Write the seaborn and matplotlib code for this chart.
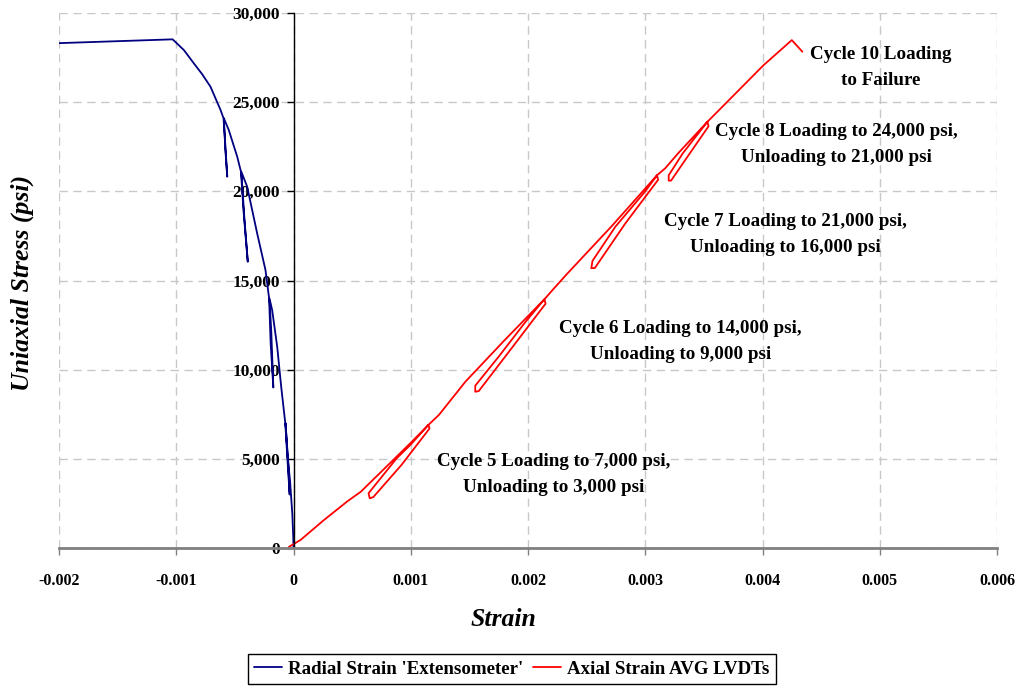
import matplotlib
matplotlib.use("Agg")
import matplotlib.pyplot as plt
import numpy as np
import pandas as pd
import seaborn as sns

# ---------------- data ----------------
radial_strain = [0.0, -0.000002, -0.000010, -0.000030, -0.000050, -0.000068,
                 -0.000045, -0.000033,
                 -0.000052, -0.000070,
                 -0.000105, -0.000139, -0.000182, -0.000205,
                 -0.000190, -0.000172,
                 -0.000195, -0.000208,
                 -0.000239, -0.000310, -0.000395, -0.000445,
                 -0.000420, -0.000390,
                 -0.000425, -0.000448,
                 -0.000480, -0.000552, -0.000594,
                 -0.000582, -0.000565,
                 -0.000585, -0.000597,
                 -0.000622, -0.000708, -0.000778, -0.000850, -0.000935, -0.001031, -0.002000]
radial_stress = [0, 600, 1900, 3800, 5100, 7000,
                 4800, 3000,
                 5000, 7000,
                 9044, 11287, 13345, 14000,
                 12200, 9000,
                 11500, 14000,
                 15587, 17645, 20258, 21100,
                 18600, 16050,
                 18800, 21100,
                 21940, 23437, 24100,
                 22400, 20820,
                 23000, 24100,
                 24559, 25866, 26560, 27177, 27923, 28523, 28310]

axial_strain = [-0.00004, 0.00006, 0.00026, 0.00046, 0.000575, 0.00080, 0.00100, 0.00115,
                0.00116, 0.00092, 0.00068, 0.00065,
                0.00064, 0.00088, 0.00100, 0.00115,
                0.00124, 0.001466, 0.00180, 0.00214,
                0.00215, 0.00186, 0.00158, 0.00155,
                0.00155, 0.00175, 0.00198, 0.00214,
                0.00221, 0.00233, 0.00271, 0.00310,
                0.00311, 0.00283, 0.00257, 0.00254,
                0.00255, 0.002745, 0.00300, 0.00310,
                0.00317, 0.00328, 0.00353,
                0.00354, 0.00338, 0.00322, 0.00320,
                0.00320, 0.00332, 0.00353,
                0.00363, 0.00401, 0.00425, 0.00434]
axial_stress = [60, 450, 1570, 2620, 3160, 4610, 5900, 6900,
                6700, 4650, 2850, 2790,
                3070, 5030, 5800, 6900,
                7460, 9325, 11650, 13950,
                13700, 11200, 8800, 8760,
                9100, 10730, 12690, 13950,
                14470, 15350, 18020, 20900,
                20650, 18200, 15700, 15690,
                16100, 18015, 20000, 20900,
                21290, 22130, 23900,
                23650, 22130, 20600, 20600,
                20900, 22130, 23900,
                24560, 27080, 28480, 27830]

series_names = ["Radial Strain 'Extensometer'", "Axial Strain AVG LVDTs"]
series_colors = ["#000080", "#ff0000"]

x_ticks = [-0.002, -0.001, 0.0, 0.001, 0.002, 0.003, 0.004, 0.005, 0.006]
x_tick_labels = ["-0.002", "-0.001", "0", "0.001", "0.002", "0.003", "0.004", "0.005", "0.006"]
y_ticks = [0, 5000, 10000, 15000, 20000, 25000, 30000]
y_tick_labels = ["0", "5,000", "10,000", "15,000", "20,000", "25,000", "30,000"]

note_texts = ["Cycle 10 Loading\nto Failure",
              "Cycle 8 Loading to 24,000 psi,\nUnloading to 21,000 psi",
              "Cycle 7 Loading to 21,000 psi,\nUnloading to 16,000 psi",
              "Cycle 6 Loading to 14,000 psi,\nUnloading to 9,000 psi",
              "Cycle 5 Loading to 7,000 psi,\nUnloading to 3,000 psi"]
note_x = [0.005004, 0.004629, 0.004194, 0.003299, 0.002217]
note_y = [26940, 22620, 17580, 11580, 4120]

# ---------------- styling ----------------
sns.set_theme(style="white")
plt.rcParams["font.family"] = ["Liberation Serif", "DejaVu Serif"]
plt.rcParams["font.weight"] = "bold"
plt.rcParams["text.color"] = "black"
plt.rcParams["axes.labelcolor"] = "black"
plt.rcParams["xtick.color"] = "black"
plt.rcParams["ytick.color"] = "black"

df = pd.concat([
    pd.DataFrame({"strain": radial_strain, "stress": radial_stress, "series": series_names[0]}),
    pd.DataFrame({"strain": axial_strain, "stress": axial_stress, "series": series_names[1]}),
], ignore_index=True)

fig = plt.figure(figsize=(10.24, 6.87), dpi=100)
ax = fig.add_axes([59 / 1024, 1 - 548 / 687, 938 / 1024, 535 / 687])

sns.lineplot(data=df, x="strain", y="stress", hue="series", hue_order=series_names,
             palette=series_colors, sort=False, estimator=None, linewidth=1.3,
             ax=ax, legend=False)

ax.set_xlim(-0.002, 0.006)
ax.set_ylim(0, 30000)
ax.set_xticks(x_ticks)
ax.set_xticklabels(x_tick_labels)
ax.set_yticks(y_ticks)
ax.set_yticklabels(y_tick_labels)
ax.set_xlabel("")
ax.set_ylabel("")

ax.set_axisbelow(True)
ax.grid(True, linestyle=(0, (6, 4)), color="#c8c8c8", linewidth=1)

ax.spines["top"].set_visible(False)
ax.spines["right"].set_visible(False)
ax.spines["left"].set_position(("data", 0))
ax.spines["left"].set_color("black")
ax.spines["left"].set_linewidth(1)
ax.spines["bottom"].set_color("#808080")
ax.spines["bottom"].set_linewidth(2)

ax.tick_params(axis="x", direction="out", length=5, width=1, color="#808080",
               labelcolor="black", pad=13, labelsize=11.5, bottom=True)
ax.tick_params(axis="y", direction="out", length=5, width=1, color="black",
               labelcolor="black", pad=5, labelsize=12.5, left=True)
for lab in ax.get_xticklabels() + ax.get_yticklabels():
    lab.set_fontweight("bold")

for t, x, y in zip(note_texts, note_x, note_y):
    ax.text(x, y, t, ha="center", va="center", fontsize=13.7, fontweight="bold",
            color="black", linespacing=1.7)

fig.text(503 / 1024, 1 - 620 / 687, "Strain", ha="center", va="center",
         fontsize=18.5, fontweight="bold", fontstyle="italic", color="black")
fig.text(22 / 1024, 1 - 283 / 687, "Uniaxial Stress (psi)", ha="center", va="center",
         rotation=90, fontsize=18.5, fontweight="bold", fontstyle="italic", color="black")

handles = [plt.Line2D([], [], color=c, linewidth=1.3) for c in series_colors]
leg = fig.legend(handles, series_names, loc="center", bbox_to_anchor=(512 / 1024, 1 - 669 / 687),
                 ncol=2, frameon=True, fancybox=False, edgecolor="black", framealpha=1,
                 prop={"size": 13.6, "weight": "bold"}, handlelength=1.45, columnspacing=0.5,
                 handletextpad=0.35, borderpad=0.35)
leg.get_frame().set_linewidth(1)
for txt in leg.get_texts():
    txt.set_color("black")

fig.savefig("out.png", dpi=100)
